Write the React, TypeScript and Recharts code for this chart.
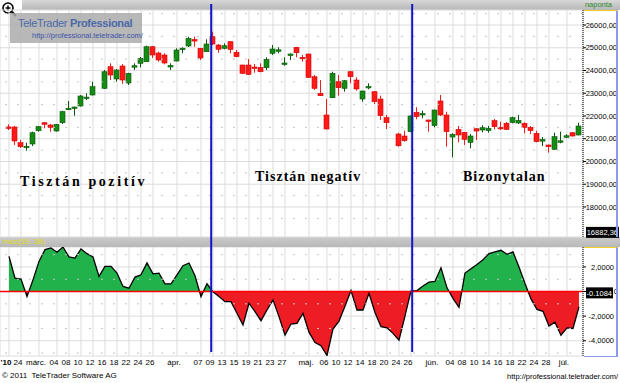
import React from "react";
import { ComposedChart, Bar, Area, XAxis, YAxis, CartesianGrid, ReferenceLine } from "recharts";

// BUX napi gyertyák, hétköznapi slotok 2010.02.22 – 07.05 (null = nincs kötés)
const open = [
  21520, 21516, 20826, 20640, 20769, 21353, 21705, 21604, 21340, 21705, 22307, 22370, 22440, 22800, 22923, null,
  23217, 24167, 23626, 24198, 23450, 24180, 24316, 24387, 25046, 24769, 24681, 24200, 24417, 24960, 25077, 25360,
  24976, 24826, 25486, 25120, 24976, 25266, 24800, 24242, 24242, 24154, 24140, 24123, 24756, 24890, 24310, 24681,
  25020, 24580, 24725, 23727, 22997, 22044, 22804, 23507, 23217, 23947, 23582, 22747, 23280, 23068, 22747, 21925,
  null, 21208, 21120, 21310, 22160, 22060, 21824, 21575, 22660, 22044, 21076, 21410, 21283, 20843, 21440, 21384,
  21355, 21795, 21500, 21677, 21715, 21692, 21677, 21500, 21237, 20930, 20725, 20535, 20890, 21110, 21265, 21164,
];
const high = [
  21635, 21560, 20945, 20826, 21310, 21560, 21720, 21650, 21650, 22232, 22660, 22410, 22923, 22997, 23507, null,
  24022, 24316, 24066, 24286, 23900, 24316, 24593, 25090, 25077, 24826, 24758, 24316, 24976, 25020, 25486, 25486,
  24990, 25371, 25705, 25165, 25195, 25290, 24900, 24250, 24505, 24286, 24316, 24580, 25120, 25020, 24580, 24756,
  25040, 24681, 24740, 23802, 23582, 22747, 23947, 23802, 23582, 23980, 23701, 23110, 23437, 23090, 22892, 22044,
  null, 21265, 21350, 22020, 22382, 22232, 21840, 22280, 22923, 22190, 21240, 21560, 21300, 21208, 21460, 21590,
  21560, 21868, 21750, 21736, 21970, 22044, 21720, 21560, 21350, 21076, 20740, 21265, 21310, 21200, 21290, 21705,
];
const low = [
  21384, 20725, 20593, 20474, 20680, 21310, 21460, 21310, 21310, 21650, 22263, 22013, 22417, 22700, 22900, null,
  23187, 23582, 23507, 23406, 23362, 24022, 24140, 24374, 24549, 24387, 24272, 24022, 24400, 24756, 25033, 25046,
  24461, 24813, 25120, 24782, 24932, 24756, 24580, 23846, 23802, 23903, 23920, 24022, 24681, 24756, 24211, 24461,
  24580, 24387, 23670, 23143, 22879, 21410, 22790, 22892, 23068, 23437, 23112, 22628, 23173, 22527, 21824, 21428,
  null, 20650, 20870, 21290, 21855, 21900, 21310, 21500, 22000, 20650, 20185, 20845, 20725, 20580, 20945, 21280,
  21265, 21410, 21384, 21384, 21677, 21648, 21237, 21208, 20843, 20681, 20390, 20520, 20800, 21040, 21100, 21150,
];
const close = [
  21480, 20901, 20650, 20670, 21265, 21530, 21635, 21500, 21635, 22190, 22340, 22395, 22879, 22830, 23288, null,
  23947, 23802, 24022, 23582, 23877, 24210, 24536, 25046, 24681, 24461, 24330, 24220, 24901, 24980, 25415, 25330,
  24549, 25165, 25165, 24932, 25090, 24932, 24607, 23877, 23833, 24110, 23947, 24492, 24945, 24910, 24330, 24725,
  24782, 24550, 23700, 23217, 22892, 21428, 23877, 23244, 23551, 23727, 23187, 23099, 23300, 22628, 22013, 21705,
  null, 20690, 20915, 22000, 21970, 22110, 21760, 22263, 22044, 21310, 21195, 21164, 20975, 21120, 21340, 21485,
  21458, 21530, 21460, 21414, 21925, 21810, 21500, 21355, 20870, 20960, 20650, 21090, 20910, 21130, 21120, 21560,
];
const mcc = [
  2.86, 1.09, 1.01, -0.41, 0.95, 2.45, 3.41, 3.54, 3.19, 3.62, 2.81, 2.72, 3.46, 3.08, 2.81, 1.23,
  2.04, 2.04, 1.5, 0.41, 0.27, 1.17, 1.36, 2.32, 1.44, 1.5, 0.63, 0.63, 1.36, 2.1, 2.32, 1.28,
  -0.41, 0.63, -0.02, -0.41, -0.82, -0.82, -1.77, -2.72, -0.95, -1.63, -2.37, -1.5, -0.68, -2.04, -3.54, -2.64,
  -2.59, -1.77, -3.3, -4.15, -4.4, -5.2, -3.05, -2.4, -1.2, 0.08, -1.5, -1.5, -0.14, -1.7, -2.86, -2.95,
  -3.4, -3.95, -2.0, 0.05, 0.08, 0.45, 0.76, 0.82, 1.93, 0.3, -0.55, -1.28, 1.5, 1.85, 2.2, 2.59,
  3.08, 3.22, 3.35, 3.02, 3.22, 2.0, 0.65, -0.6, -1.45, -1.61, -2.8, -2.5, -3.55, -2.95, -3.0, -1.25,
];

const tickPos = [0, 2, 5, 8, 10, 12, 14, 16, 18, 20, 22, 24, 28, 32, 34, 36, 38, 40, 42, 44, 46, 50, 53, 55, 57, 59, 61, 63, 65, 67, 71, 74, 76, 78, 80, 82, 84, 86, 88, 90, 93];
const tickText = ["'10", "24", "márc.", "04", "08", "10", "12", "16", "18", "22", "24", "26", "ápr.", "07", "09", "13", "15", "19", "21", "23", "27", "máj.", "06", "10", "12", "14", "18", "20", "24", "26", "jún.", "04", "08", "10", "14", "16", "18", "22", "24", "28", "júl."];

const priceTicks = [18000, 19000, 20000, 21000, 22000, 23000, 24000, 25000, 26000];
const priceHalf = [17500, 18500, 19500, 20500, 21500, 22500, 23500, 24500, 25500, 26500];
const mccTicks = [2, 0, -2, -4];
const mccHalf = [3, 1, -1, -3, -5];
const splits = [33.7, 67.2];
const priceMin = 16882.36;
const mccLast = -0.1084;

const rows = open.map((o, i) => ({
  i,
  o,
  h: high[i],
  l: low[i],
  c: close[i],
  range: o == null ? null : [low[i], high[i]],
  mcc: mcc[i],
}));

const GREEN = "#148c14";
const GREEN_EDGE = "#0a560a";
const RED = "#ff1a1a";
const RED_EDGE = "#d00000";
const AXIS_FONT = '"Liberation Sans", Arial, sans-serif';

const mMax = Math.max(...mcc);
const mMin = Math.min(...mcc);
const zeroOff = mMax / (mMax - mMin);

const Candle = (p: any) => {
  const { x, y, width, height, payload } = p;
  if (!payload || payload.o == null) return null;
  const { o, h, l, c } = payload;
  const top = height < 0 ? y + height : y;
  const span = Math.abs(height);
  const k = span / Math.max(h - l, 1);
  const py = (v: number) => top + (h - v) * k;
  const up = c >= o;
  const cx = Math.round(x + width / 2) + 0.5;
  const bt = py(Math.max(o, c));
  const bh = Math.max(1.5, py(Math.min(o, c)) - bt);
  return (
    <g>
      <line x1={cx} x2={cx} y1={top} y2={top + span} stroke={up ? GREEN_EDGE : RED} strokeWidth={1} />
      <rect x={cx - 2.5} y={bt} width={5} height={bh} fill={up ? GREEN : RED} stroke={up ? GREEN_EDGE : RED_EDGE} strokeWidth={0.6} />
    </g>
  );
};

const BoxLabel = ({ viewBox, text, w }: any) => {
  const bx = viewBox.x + viewBox.width + 3;
  return (
    <g>
      <rect x={bx} y={viewBox.y - 5.5} width={w} height={11} fill="#000" />
      <text x={bx + w - 1} y={viewBox.y + 3} textAnchor="end" fill="#fff" fontSize={7.5} fontFamily={AXIS_FONT}>
        {text}
      </text>
    </g>
  );
};

const PriceTick = ({ y, payload }: any) => (
  <text x={617} y={y + 2.7} textAnchor="end" fontSize={7.5} fontFamily={AXIS_FONT} fill="#000">
    {payload.value.toFixed(2).replace(".", ",")}
  </text>
);

const MccTick = ({ y, payload }: any) => (
  <text x={payload.value === 0 ? 618 : 614} y={y + 2.7} textAnchor="end" fontSize={7.5} fontFamily={AXIS_FONT} fill="#000">
    {payload.value === 0 ? "0" : payload.value.toFixed(4).replace(".", ",")}
  </text>
);

const DateTick = ({ x, y, payload }: any) => {
  const k = tickPos.indexOf(payload.value);
  return (
    <text x={x - 3} y={y + 9} textAnchor="middle" fontSize={8} fontFamily={AXIS_FONT} fill="#000" fontWeight={k === 0 ? "bold" : "normal"}>
      {tickText[k]}
    </text>
  );
};

const splitLine = (ext: number, cut: number) => (p: any) => (
  <line x1={p.x1} x2={p.x2} y1={Math.min(p.y1, p.y2) - ext} y2={Math.max(p.y1, p.y2) + cut} stroke="#1414c8" strokeWidth={2} />
);

const phaseStyle: React.CSSProperties = {
  position: "absolute",
  fontFamily: '"Liberation Serif", "DejaVu Serif", serif',
  fontWeight: "bold",
  fontSize: 14,
  letterSpacing: 1,
  color: "#000",
  whiteSpace: "nowrap",
};

export default function App() {
  return (
    <div style={{ position: "absolute", left: 0, top: 0, width: 620, height: 383, background: "#fff", overflow: "hidden", fontFamily: AXIS_FONT }}>
      {/* fejléc sávok */}
      <div style={{ position: "absolute", left: 22, top: 0, width: 598, height: 10, background: "linear-gradient(#d8d8d8, #b6b6b6)" }} />
      <div style={{ position: "absolute", right: 8, top: 0, fontSize: 7.5, lineHeight: "10px", color: "#2c8a2c" }}>naponta</div>
      <div style={{ position: "absolute", left: 0, top: 237, width: 620, height: 10, background: "linear-gradient(#cbcbcb, #b8b8b8)" }} />
      <div style={{ position: "absolute", left: 3, top: 237, fontSize: 8, lineHeight: "10px", color: "#e2dc00" }}>mcc(19, 39)</div>

      <svg style={{ position: "absolute", left: 0, top: 0 }} width={20} height={20}>
        <circle cx={8} cy={8} r={5} fill="#fff" stroke="#000" strokeWidth={1.6} />
        <line x1={5.5} x2={10.5} y1={8} y2={8} stroke="#000" strokeWidth={1.4} />
        <line x1={8} x2={8} y1={5.5} y2={10.5} stroke="#000" strokeWidth={1.4} />
        <line x1={11.8} x2={16} y1={11.8} y2={16} stroke="#000" strokeWidth={2.2} />
      </svg>

      <div style={{ position: "absolute", left: 0, top: 0 }}>
        <ComposedChart width={620} height={247} data={rows} margin={{ top: 10, right: 0, bottom: 10, left: 0 }}>
          <CartesianGrid stroke="#dcdcdc" />
          <XAxis type="number" dataKey="i" domain={[-1.5, 95.67]} ticks={tickPos} interval={0} hide allowDataOverflow />
          <YAxis
            orientation="right"
            width={37}
            domain={[16680, 26660]}
            ticks={priceTicks}
            interval={0}
            allowDataOverflow
            tick={<PriceTick />}
            tickSize={3}
            axisLine={{ stroke: "#000", strokeDasharray: "1 1" }}
            tickLine={{ stroke: "#000" }}
          />
          {priceHalf.map((v) => (
            <ReferenceLine key={v} y={v} stroke="#c4c4c4" strokeDasharray="2 10" />
          ))}
          <Bar dataKey="range" shape={<Candle />} barSize={5} isAnimationActive={false} />
          <ReferenceLine y={priceMin} stroke="none" label={<BoxLabel text={priceMin.toFixed(2).replace(".", ",")} w={33} />} />
          {splits.map((s) => (
            <ReferenceLine key={s} x={s} shape={splitLine(6, 10)} />
          ))}
        </ComposedChart>
      </div>

      <div style={{ position: "absolute", left: 0, top: 247 }}>
        <ComposedChart width={620} height={123} data={rows} margin={{ top: 0, right: 0, bottom: 0, left: 0 }}>
          <defs>
            <linearGradient id="mccFill" x1="0" y1="0" x2="0" y2="1">
              <stop offset={zeroOff} stopColor="#22b24c" />
              <stop offset={zeroOff} stopColor="#ee1d24" />
            </linearGradient>
          </defs>
          <CartesianGrid stroke="#dcdcdc" />
          <XAxis
            type="number"
            dataKey="i"
            domain={[-1.5, 95.67]}
            ticks={tickPos}
            interval={0}
            height={14}
            tick={<DateTick />}
            tickLine={false}
            axisLine={false}
            tickSize={0}
            tickMargin={0}
            allowDataOverflow
          />
          <YAxis
            orientation="right"
            width={37}
            domain={[-5.24, 3.62]}
            ticks={mccTicks}
            interval={0}
            allowDataOverflow
            tick={<MccTick />}
            tickSize={3}
            axisLine={{ stroke: "#000", strokeDasharray: "1 1" }}
            tickLine={{ stroke: "#000" }}
          />
          {mccHalf.map((v) => (
            <ReferenceLine key={v} y={v} stroke="#c4c4c4" strokeDasharray="2 10" />
          ))}
          <Area type="linear" dataKey="mcc" baseValue={0} fill="url(#mccFill)" fillOpacity={1} stroke="#000" strokeWidth={1.3} isAnimationActive={false} dot={false} activeDot={false} />
          <ReferenceLine y={0} stroke="#ff0000" strokeWidth={1.5} />
          <ReferenceLine y={mccLast} stroke="none" label={<BoxLabel text={String(mccLast)} w={27} />} />
          {splits.map((s) => (
            <ReferenceLine key={s} x={s} shape={splitLine(0, -4)} />
          ))}
        </ComposedChart>
      </div>

      {/* jobb oldali tengelykeretek */}
      <div style={{ position: "absolute", left: 584, top: 10, width: 34, height: 227, borderTop: "1px solid #f2cf2a", borderRight: "2px solid #8b9cf0", boxSizing: "border-box" }} />
      <div style={{ position: "absolute", left: 584, top: 247, width: 34, height: 110, borderTop: "1px solid #f2cf2a", borderRight: "2px solid #8b9cf0", borderBottom: "1px solid #8b9cf0", boxSizing: "border-box" }} />

      {/* logó */}
      <div style={{ position: "absolute", left: 10, top: 13, width: 132, height: 30, background: "rgba(172,172,172,0.85)" }}>
        <div style={{ position: "absolute", left: 8, top: 4, fontSize: 11, letterSpacing: -0.3, lineHeight: "13px", color: "#4a6aa8", whiteSpace: "nowrap" }}>
          TeleTrader <b>Professional</b>
        </div>
        <div style={{ position: "absolute", left: 22, top: 18, fontSize: 7.5, lineHeight: "9px", color: "#3b55a8", whiteSpace: "nowrap" }}>
          http://professional.teletrader.com/
        </div>
      </div>

      <div style={{ ...phaseStyle, left: 20, top: 174, letterSpacing: 2.6 }}>Tisztán pozitív</div>
      <div style={{ ...phaseStyle, left: 255, top: 169 }}>Tisztán negatív</div>
      <div style={{ ...phaseStyle, left: 463, top: 169 }}>Bizonytalan</div>

      <div style={{ position: "absolute", left: 2, top: 371, fontSize: 8, lineHeight: "10px", color: "#000" }}>© 2011&nbsp; TeleTrader Software AG</div>
      <div style={{ position: "absolute", right: 2, top: 372, fontSize: 7.5, lineHeight: "10px", color: "#000" }}>http://professional.teletrader.com/</div>
    </div>
  );
}
